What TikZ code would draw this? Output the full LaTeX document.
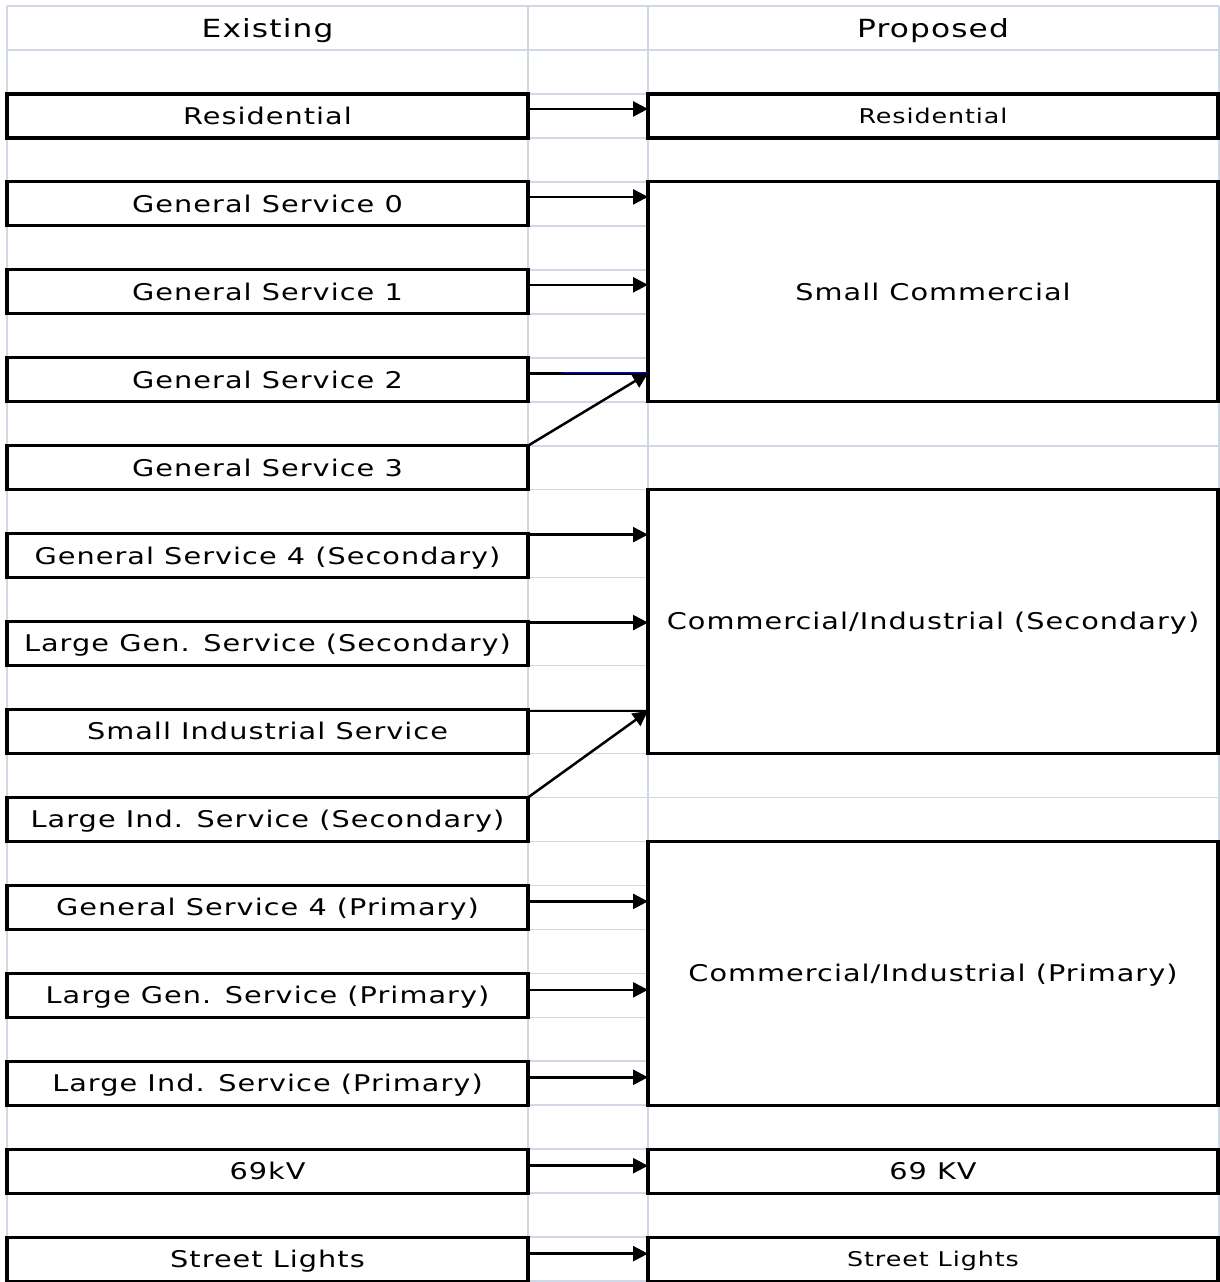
\documentclass[tikz,border=0pt]{standalone}
\usepackage{fontspec}
\usetikzlibrary{arrows.meta}
\newfontfamily\lsfont[LetterSpace=4.5,FakeStretch=1.25]{DejaVu Sans}
\definecolor{gridc}{HTML}{D0D7E5}
\begin{document}
\begin{tikzpicture}[x=1pt,y=-1pt,
  thead/.style={font=\lsfont\fontsize{25}{29}\selectfont, text height=18.2pt, text depth=0pt},
  tbig/.style={font=\lsfont\fontsize{23}{27}\selectfont, text height=16.8pt, text depth=0pt},
  tsmall/.style={font=\lsfont\fontsize{20.3}{24}\selectfont, text height=14.8pt, text depth=0pt},
  mybox/.style={draw, fill=white, line width=3.2pt, inner sep=0pt, outer sep=0pt, anchor=north west},
  lbox/.style={mybox, tbig, minimum width=521pt, minimum height=43.97pt},
  rbox/.style={mybox, minimum width=570pt},
  arr/.style={line width=2.5pt, -{Triangle[length=15pt,width=15pt]}},
  plainln/.style={line width=2.5pt},
  gridln/.style={gridc, line width=1.6pt}]
\useasboundingbox (0,0) rectangle (1220,1282);
\fill[white] (0,0) rectangle (1220,1282);
% spreadsheet grid
\foreach \k in {0,...,29}
  \draw[gridln] (7,{6+43.97*\k}) -- (1219,{6+43.97*\k});
\foreach \xx in {7,528,648,1219}
  \draw[gridln] (\xx,6) -- (\xx,1281.13);
% headers
\node[thead] (hexist) at (267.5,27.98) {Existing};
\node[thead] (hprop) at (933,27.98) {Proposed};
% existing
\node[lbox] (res)  at (7,93.94)   {Residential};
\node[lbox] (gs0)  at (7,181.88)  {General Service 0};
\node[lbox] (gs1)  at (7,269.82)  {General Service 1};
\node[lbox] (gs2)  at (7,357.76)  {General Service 2};
\node[lbox] (gs3)  at (7,445.70)  {General Service 3};
\node[lbox] (gs4s) at (7,533.64)  {General Service 4 (Secondary)};
\node[lbox] (lgss) at (7,621.58)  {Large Gen. Service (Secondary)};
\node[lbox] (sis)  at (7,709.52)  {Small Industrial Service};
\node[lbox] (liss) at (7,797.46)  {Large Ind. Service (Secondary)};
\node[lbox] (gs4p) at (7,885.40)  {General Service 4 (Primary)};
\node[lbox] (lgsp) at (7,973.34)  {Large Gen. Service (Primary)};
\node[lbox] (lisp) at (7,1061.28) {Large Ind. Service (Primary)};
\node[lbox] (kv)   at (7,1149.22) {69kV};
\node[lbox] (sl)   at (7,1237.16) {Street Lights};
% proposed
\node[rbox, tsmall, minimum height=43.97pt] (pres) at (648,93.94) {Residential};
\node[rbox, tbig, minimum height=219.85pt] (psc) at (648,181.88) {Small Commercial};
\node[rbox, tbig, minimum height=263.82pt] (pcis) at (648,489.67) {Commercial/Industrial (Secondary)};
\node[rbox, tbig, minimum height=263.82pt] (pcip) at (648,841.43) {Commercial/Industrial (Primary)};
\node[rbox, tbig, minimum height=43.97pt] (pkv) at (648,1149.22) {69 KV};
\node[rbox, tsmall, minimum height=43.97pt] (psl) at (648,1237.16) {Street Lights};
% connector start points
\coordinate (a1)  at ([yshift=-15pt]res.north east);
\coordinate (a2)  at ([yshift=-15pt]gs0.north east);
\coordinate (a3)  at ([yshift=-15pt]gs1.north east);
\coordinate (a4)  at ([yshift=-15.5pt]gs2.north east);
\coordinate (a6)  at ([yshift=-1pt]gs4s.north east);
\coordinate (a7)  at ([yshift=-1pt]lgss.north east);
\coordinate (a8)  at ([yshift=-1.5pt]sis.north east);
\coordinate (a10) at ([yshift=-16pt]gs4p.north east);
\coordinate (a11) at ([yshift=-16.5pt]lgsp.north east);
\coordinate (a12) at ([yshift=-16pt]lisp.north east);
\coordinate (a13) at ([yshift=-16.5pt]kv.north east);
\coordinate (a14) at ([yshift=-16.5pt]sl.north east);
\coordinate (t4) at (a4 -| psc.west);
\coordinate (t8) at (a8 -| pcis.west);
% connectors
\draw[arr] (a1) -- (a1 -| pres.west);
\draw[arr] (a2) -- (a2 -| psc.west);
\draw[arr] (a3) -- (a3 -| psc.west);
\draw[plainln] (a4) -- (t4);
\draw[blue, line width=1.1pt] ([xshift=35pt,yshift=1pt]a4) -- ([yshift=1pt]t4);
\draw[arr] (gs3.north east) -- (t4);
\draw[arr] (a6) -- (a6 -| pcis.west);
\draw[arr] (a7) -- (a7 -| pcis.west);
\draw[plainln] (a8) -- (t8);
\draw[arr] (liss.north east) -- (t8);
\draw[arr] (a10) -- (a10 -| pcip.west);
\draw[arr] (a11) -- (a11 -| pcip.west);
\draw[arr] (a12) -- (a12 -| pcip.west);
\draw[arr] (a13) -- (a13 -| pkv.west);
\draw[arr] (a14) -- (a14 -| psl.west);
\end{tikzpicture}
\end{document}
